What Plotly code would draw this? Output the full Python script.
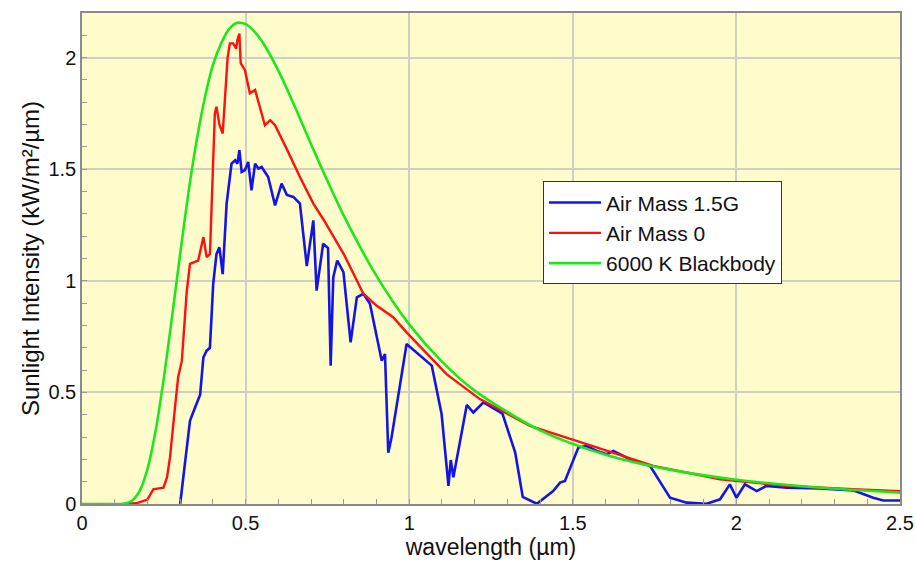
import plotly.graph_objects as go

# ---- data ----
am15_x = [0.30, 0.305, 0.315, 0.33, 0.345, 0.361, 0.371, 0.381, 0.391, 0.401, 0.411, 0.42, 0.43,
          0.442, 0.457, 0.468, 0.475, 0.481, 0.488, 0.498, 0.508, 0.518, 0.529, 0.539, 0.549,
          0.569, 0.59, 0.61, 0.626, 0.646, 0.666, 0.687, 0.707, 0.717, 0.737, 0.752, 0.760,
          0.768, 0.780, 0.799, 0.821, 0.84, 0.86, 0.88, 0.916, 0.926, 0.936, 0.946, 0.992,
          1.069, 1.099, 1.12, 1.127, 1.135, 1.176, 1.196, 1.227, 1.285, 1.324, 1.347, 1.39,
          1.44, 1.461, 1.476, 1.517, 1.542, 1.573, 1.604, 1.624, 1.685, 1.736, 1.797, 1.848,
          1.909, 1.95, 1.98, 2.0, 2.026, 2.062, 2.092, 2.154, 2.255, 2.357, 2.418, 2.449, 2.5]
am15_y = [0.0, 0.06, 0.178, 0.373, 0.43, 0.49, 0.657, 0.687, 0.70, 0.986, 1.12, 1.15, 1.03,
          1.346, 1.525, 1.54, 1.525, 1.585, 1.488, 1.496, 1.533, 1.405, 1.525, 1.503, 1.51,
          1.465, 1.338, 1.436, 1.385, 1.376, 1.346, 1.066, 1.271, 0.956, 1.166, 1.147, 0.62,
          1.016, 1.091, 1.039, 0.724, 0.926, 0.942, 0.897, 0.642, 0.672, 0.23, 0.298, 0.717,
          0.62, 0.403, 0.081, 0.197, 0.12, 0.444, 0.41, 0.455, 0.405, 0.23, 0.032, 0.001,
          0.058, 0.096, 0.103, 0.253, 0.26, 0.238, 0.223, 0.238, 0.193, 0.171, 0.028, 0.006,
          0.001, 0.021, 0.088, 0.028, 0.088, 0.058, 0.081, 0.073, 0.070, 0.061, 0.028, 0.016, 0.016]

am0_x = [0.14, 0.17, 0.20, 0.218, 0.235, 0.249, 0.26, 0.269, 0.284, 0.294, 0.305, 0.32, 0.33,
         0.345, 0.355, 0.371, 0.381, 0.391, 0.398, 0.406, 0.411, 0.42, 0.43, 0.437, 0.445,
         0.452, 0.462, 0.471, 0.475, 0.481, 0.485, 0.498, 0.513, 0.529, 0.549, 0.559, 0.575,
         0.59, 0.626, 0.666, 0.707, 0.737, 0.80, 0.86, 0.90, 0.951, 0.992, 1.064, 1.114,
         1.216, 1.318, 1.369, 1.542, 1.746, 1.95, 2.154, 2.357, 2.5]
am0_y = [0.0, 0.005, 0.02, 0.066, 0.07, 0.073, 0.12, 0.21, 0.43, 0.57, 0.64, 0.95, 1.076,
         1.083, 1.09, 1.196, 1.106, 1.12, 1.4, 1.75, 1.78, 1.70, 1.66, 1.81, 2.0,
         2.064, 2.064, 2.04, 2.08, 2.108, 1.975, 1.944, 1.84, 1.855, 1.75, 1.697, 1.72,
         1.697, 1.59, 1.465, 1.346, 1.277, 1.12, 0.942, 0.889, 0.837, 0.769, 0.657, 0.582,
         0.470, 0.388, 0.35, 0.268, 0.171, 0.111, 0.081, 0.066, 0.057]

bb_x = [0, 0.1, 0.125, 0.15, 0.175, 0.2, 0.225, 0.25, 0.275, 0.3, 0.325, 0.35, 0.375, 0.4,
        0.425, 0.45, 0.475, 0.5, 0.525, 0.55, 0.6, 0.65, 0.7, 0.75, 0.8, 0.9, 1.0, 1.1, 1.2,
        1.4, 1.6, 1.8, 2.0, 2.25, 2.5]
bb_y = [0, 0, 0.001, 0.012, 0.055, 0.156, 0.328, 0.563, 0.836, 1.120, 1.392, 1.625, 1.817,
        1.966, 2.063, 2.129, 2.156, 2.150, 2.120, 2.073, 1.942, 1.782, 1.612, 1.448, 1.292,
        1.022, 0.805, 0.638, 0.508, 0.330, 0.221, 0.153, 0.109, 0.074, 0.051]

x_ticks = [0, 0.5, 1, 1.5, 2, 2.5]
x_tick_labels = ["0", "0.5", "1", "1.5", "2", "2.5"]
y_ticks = [0, 0.5, 1, 1.5, 2]
y_tick_labels = ["0", "0.5", "1", "1.5", "2"]

FONT = "Liberation Sans, Arial, Helvetica, sans-serif"

fig = go.Figure()
fig.add_trace(go.Scatter(x=am15_x, y=am15_y, mode="lines", name="Air Mass 1.5G",
                         line=dict(color="#1414E6", width=2.6)))
fig.add_trace(go.Scatter(x=am0_x, y=am0_y, mode="lines", name="Air Mass 0",
                         line=dict(color="#FF1010", width=2.4)))
fig.add_trace(go.Scatter(x=bb_x, y=bb_y, mode="lines", name="6000 K Blackbody",
                         line=dict(color="#1EE61E", width=2.6, shape="spline", smoothing=0.8)))

axis_common = dict(
    showline=True, linecolor="#8a8a8a", linewidth=1.5, mirror=True,
    showgrid=True, gridcolor="#cfcfc4", gridwidth=1.5,
    zeroline=False, ticks="inside", ticklen=5, tickcolor="#9a9a9a",
    tickfont=dict(family=FONT, size=20, color="#111"),
    automargin=False,
)

fig.update_xaxes(range=[0, 2.5], tickvals=x_ticks, ticktext=x_tick_labels,
                 minor=dict(dtick=0.1, ticks="inside", ticklen=5, tickcolor="#9a9a9a", showgrid=False),
                 title=dict(text="wavelength (µm)", font=dict(family=FONT, size=23, color="#111"),
                            standoff=0),
                 **axis_common)
fig.update_yaxes(range=[0, 2.2], tickvals=y_ticks, ticktext=y_tick_labels,
                 minor=dict(dtick=0.1, ticks="inside", ticklen=5, tickcolor="#9a9a9a", showgrid=False),
                 title=dict(text="Sunlight Intensity (kW/m²/µm)",
                            font=dict(family=FONT, size=24, color="#111"), standoff=2),
                 **axis_common)

fig.update_layout(
    width=916, height=562,
    margin=dict(l=82, r=16, t=13, b=58),
    paper_bgcolor="white", plot_bgcolor="#FFFCCC",
    showlegend=True,
    legend=dict(x=0.5636, y=0.657, xanchor="left", yanchor="top",
                bgcolor="white", bordercolor="#333", borderwidth=1,
                font=dict(family=FONT, size=21, color="#111"),
                tracegroupgap=0, itemwidth=52),
    font=dict(family=FONT),
)

fig.write_html("out.html")
